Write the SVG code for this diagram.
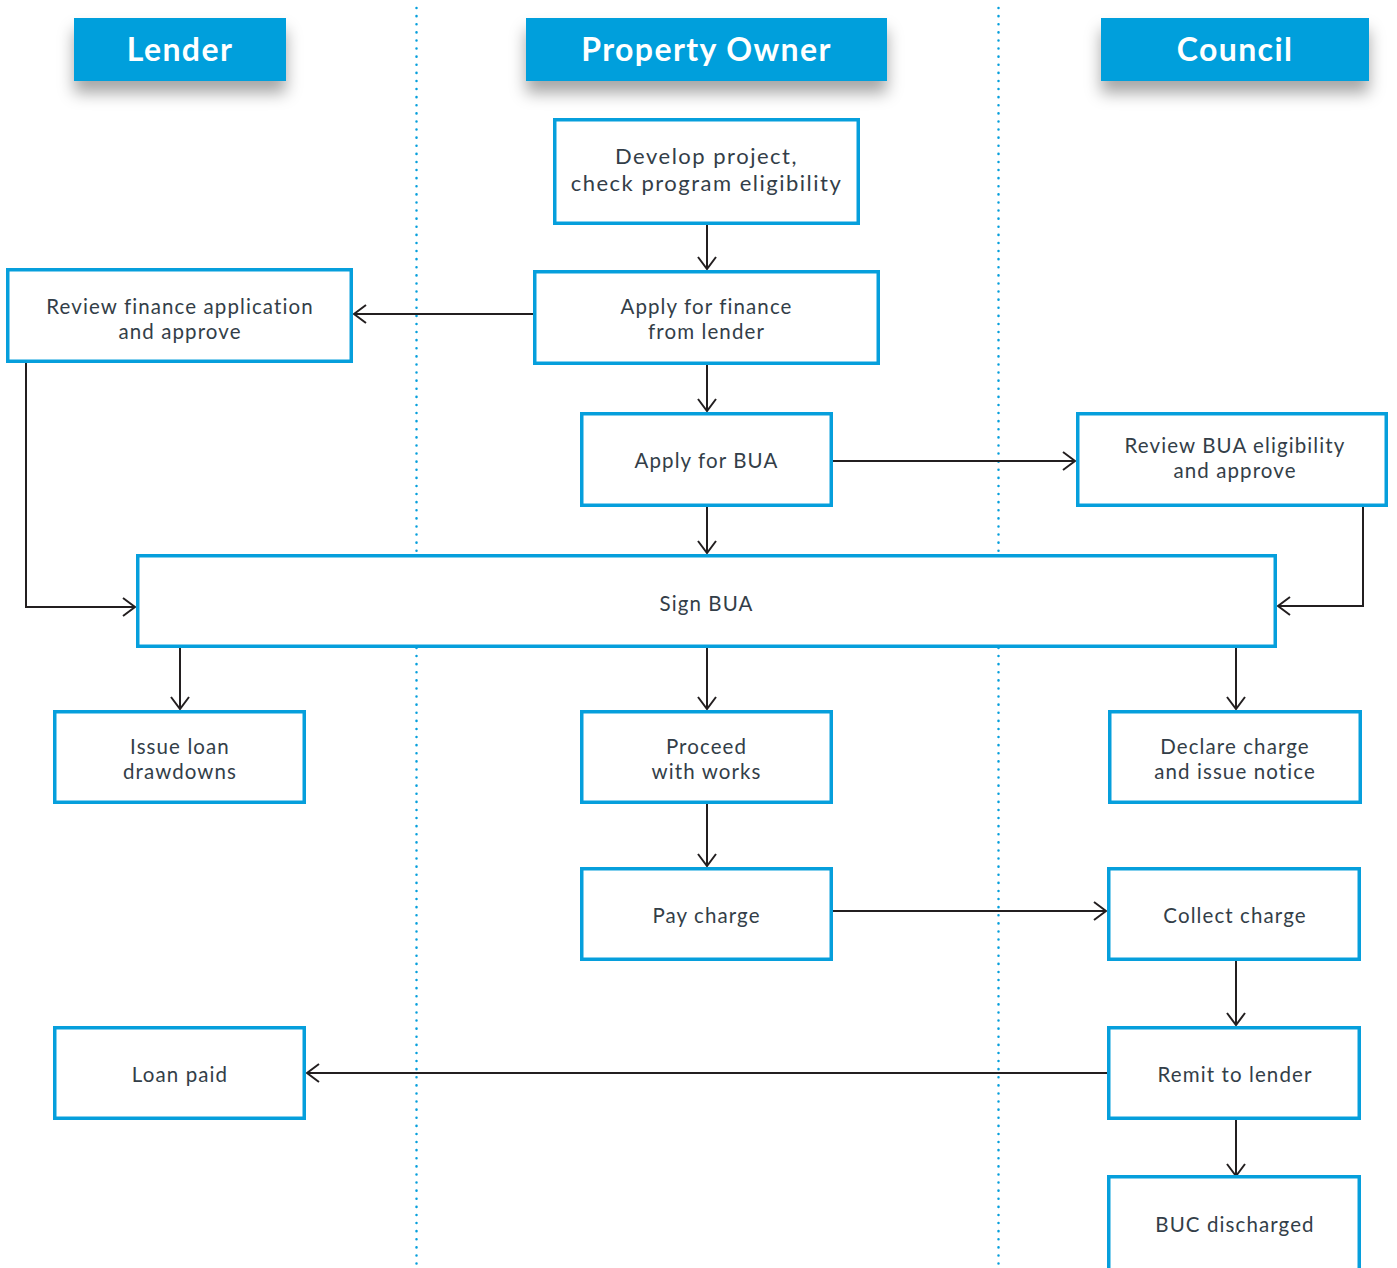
<svg xmlns="http://www.w3.org/2000/svg" width="1397" height="1268" viewBox="0 0 1397 1268">
<defs>
<filter id="sh" x="-20%" y="-30%" width="140%" height="200%">
<feDropShadow dx="0" dy="12" stdDeviation="8" flood-color="#000" flood-opacity="0.35"/>
</filter>
<marker id="ah" viewBox="0 0 14 20" refX="13" refY="10" markerWidth="14" markerHeight="20" markerUnits="userSpaceOnUse" orient="auto">
<path d="M1,1 L13,10 L1,19" fill="none" stroke="#231f20" stroke-width="2"/>
</marker>
</defs>
<style>
.hdr{fill:#069fdc;filter:url(#sh)}
.ht{font-family:Lato,"Open Sans",sans-serif;font-weight:700;font-size:32px;letter-spacing:1.4px;fill:#fff;text-anchor:middle}
.box{fill:#fff;stroke:#069fdc;stroke-width:3.5}
.t{font-family:Lato,"Open Sans",sans-serif;font-size:20.5px;letter-spacing:1.1px;fill:#333e48;text-anchor:middle}
.big{font-size:22px;letter-spacing:1.5px}
.c{fill:none;stroke:#231f20;stroke-width:2;marker-end:url(#ah)}
.lane{stroke:#069fdc;stroke-width:2.5;stroke-dasharray:0.1 8;stroke-linecap:round}
</style>
<rect width="1397" height="1268" fill="#fff"/>
<g id="lanes">
<line class="lane" x1="416.5" y1="8" x2="416.5" y2="1268"/>
<line class="lane" x1="998.5" y1="8" x2="998.5" y2="1268"/>
</g>
<g id="h-lender"><rect class="hdr" x="74" y="18" width="212" height="63"/><text class="ht" x="180" y="61">Lender</text></g>
<g id="h-owner"><rect class="hdr" x="526" y="18" width="361" height="63"/><text class="ht" x="706.5" y="61">Property Owner</text></g>
<g id="h-council"><rect class="hdr" x="1101" y="18" width="268" height="63"/><text class="ht" x="1235" y="61">Council</text></g>

<g id="connectors">
<path class="c" d="M707,225 V269"/>
<path class="c" d="M533,314 H354"/>
<path class="c" d="M707,365 V411"/>
<path class="c" d="M833,461 H1075"/>
<path class="c" d="M707,507 V553"/>
<path class="c" d="M26,362 V607 H135"/>
<path class="c" d="M1363,507 V606 H1278"/>
<path class="c" d="M180,648 V709"/>
<path class="c" d="M707,648 V709"/>
<path class="c" d="M1236,648 V709"/>
<path class="c" d="M707,804 V866"/>
<path class="c" d="M833,911 H1106"/>
<path class="c" d="M1236,961 V1025"/>
<path class="c" d="M1107,1073 H307"/>
<path class="c" d="M1236,1116 V1176"/>
</g>

<g id="n-develop"><rect class="box" x="554.75" y="119.75" width="303.5" height="103.5"/><text class="t big" x="706.5" y="164">Develop project,<tspan x="706.5" dy="26.5">check program eligibility</tspan></text></g>
<g id="n-applyfin"><rect class="box" x="534.75" y="271.75" width="343.5" height="91.5"/><text class="t" x="706.5" y="314">Apply for finance<tspan x="706.5" dy="25">from lender</tspan></text></g>
<g id="n-reviewfin"><rect class="box" x="7.75" y="269.75" width="343.5" height="91.5"/><text class="t" x="180" y="314">Review finance application<tspan x="180" dy="25">and approve</tspan></text></g>
<g id="n-applybua"><rect class="box" x="581.75" y="413.75" width="249.5" height="91.5"/><text class="t" x="706.5" y="468">Apply for BUA</text></g>
<g id="n-reviewbua"><rect class="box" x="1077.75" y="413.75" width="308.5" height="91.5"/><text class="t" x="1235" y="453">Review BUA eligibility<tspan x="1235" dy="25">and approve</tspan></text></g>
<g id="n-sign"><rect class="box" x="137.75" y="555.75" width="1137.5" height="90.5"/><text class="t" x="706.5" y="611">Sign BUA</text></g>
<g id="n-issue"><rect class="box" x="54.75" y="711.75" width="249.5" height="90.5"/><text class="t" x="180" y="754">Issue loan<tspan x="180" dy="25">drawdowns</tspan></text></g>
<g id="n-proceed"><rect class="box" x="581.75" y="711.75" width="249.5" height="90.5"/><text class="t" x="706.5" y="754">Proceed<tspan x="706.5" dy="25">with works</tspan></text></g>
<g id="n-declare"><rect class="box" x="1109.75" y="711.75" width="250.5" height="90.5"/><text class="t" x="1235" y="754">Declare charge<tspan x="1235" dy="25">and issue notice</tspan></text></g>
<g id="n-pay"><rect class="box" x="581.75" y="868.75" width="249.5" height="90.5"/><text class="t" x="706.5" y="923">Pay charge</text></g>
<g id="n-collect"><rect class="box" x="1108.75" y="868.75" width="250.5" height="90.5"/><text class="t" x="1235" y="923">Collect charge</text></g>
<g id="n-loanpaid"><rect class="box" x="54.75" y="1027.75" width="249.5" height="90.5"/><text class="t" x="180" y="1082">Loan paid</text></g>
<g id="n-remit"><rect class="box" x="1108.75" y="1027.75" width="250.5" height="90.5"/><text class="t" x="1235" y="1082">Remit to lender</text></g>
<g id="n-buc"><rect class="box" x="1108.75" y="1176.75" width="250.5" height="95"/><text class="t" x="1235" y="1232">BUC discharged</text></g>
</svg>
